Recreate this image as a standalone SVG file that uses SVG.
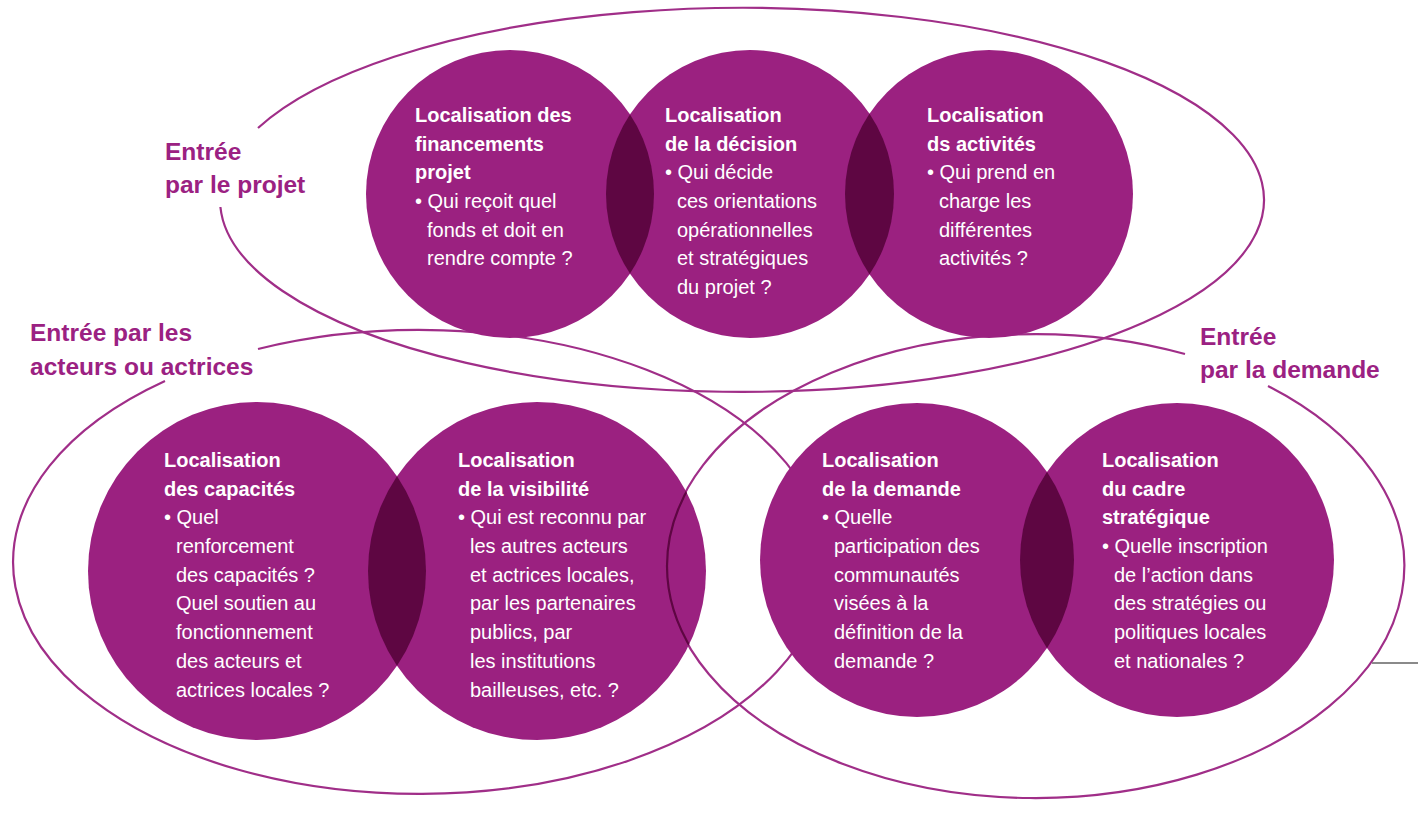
<svg xmlns="http://www.w3.org/2000/svg" width="1418" height="814" viewBox="0 0 1418 814">
<style>
.c{fill:#9b2180}
.lens{fill:#5e0642}
.ol{fill:none;stroke:#a02e88;stroke-width:2.2}
.lbl{font-family:"Liberation Sans",Arial,sans-serif;font-weight:bold;font-size:24.5px;fill:#9b2182}
.t{font-family:"Liberation Sans",Arial,sans-serif;font-size:20px;fill:#ffffff}
.h{font-weight:bold}
</style>
<defs>
<clipPath id="k1"><circle cx="510" cy="194" r="144"/></clipPath>
<clipPath id="k2"><circle cx="750" cy="194" r="144"/></clipPath>
<clipPath id="k4"><circle cx="257" cy="571" r="169"/></clipPath>
<clipPath id="k5"><circle cx="537" cy="571" r="169"/></clipPath>
<clipPath id="k6"><circle cx="917" cy="560" r="157"/></clipPath>
</defs>
<rect width="1418" height="814" fill="#ffffff"/>
<g id="connectors">
<path class="ol" d="M 220.4 207 A 522 192 0 1 0 258 128"/>
<path class="ol" d="M 258 349 A 406 232 0 1 1 165 381"/>
<path class="ol" d="M 1268 386 A 369 232 0 1 1 1185 354"/>
<line x1="1372" y1="663" x2="1418" y2="663" stroke="#8a8a8a" stroke-width="2"/>
</g>
<g id="label-projet">
<text class="lbl" x="165" y="160">Entrée</text>
<text class="lbl" x="165" y="193">par le projet</text>
</g>
<g id="label-acteurs">
<text class="lbl" x="30" y="341">Entrée par les</text>
<text class="lbl" x="30" y="375">acteurs ou actrices</text>
</g>
<g id="label-demande">
<text class="lbl" x="1200" y="345">Entrée</text>
<text class="lbl" x="1200" y="378">par la demande</text>
</g>
<g id="n1">
<circle class="c" cx="510" cy="194" r="144"/>
</g>
<g id="n2">
<circle class="c" cx="750" cy="194" r="144"/>
<circle class="lens" cx="750" cy="194" r="144" clip-path="url(#k1)"/>
</g>
<g id="n3">
<circle class="c" cx="989" cy="194" r="144"/>
<circle class="lens" cx="989" cy="194" r="144" clip-path="url(#k2)"/>
</g>
<g id="n4">
<circle class="c" cx="257" cy="571" r="169"/>
</g>
<g id="n5">
<circle class="c" cx="537" cy="571" r="169"/>
<circle class="lens" cx="537" cy="571" r="169" clip-path="url(#k4)"/>
<ellipse fill="none" stroke="#5e0642" stroke-width="2.2" cx="1036" cy="566" rx="369" ry="232" clip-path="url(#k5)"/>
</g>
<g id="n6">
<circle class="c" cx="917" cy="560" r="157"/>
</g>
<g id="n7">
<circle class="c" cx="1177" cy="560" r="157"/>
<circle class="lens" cx="1177" cy="560" r="157" clip-path="url(#k6)"/>
</g>
<g id="text1" class="t">
<text x="415" y="122" class="h">Localisation des</text>
<text x="415" y="151" class="h">financements</text>
<text x="415" y="179" class="h">projet</text>
<text x="415" y="208">• Qui reçoit quel</text>
<text x="427" y="237">fonds et doit en</text>
<text x="427" y="265">rendre compte ?</text>
</g>
<g id="text2" class="t">
<text x="665" y="122" class="h">Localisation</text>
<text x="665" y="151" class="h">de la décision</text>
<text x="665" y="179">• Qui décide</text>
<text x="677" y="208">ces orientations</text>
<text x="677" y="237">opérationnelles</text>
<text x="677" y="265">et stratégiques</text>
<text x="677" y="294">du projet ?</text>
</g>
<g id="text3" class="t">
<text x="927" y="122" class="h">Localisation</text>
<text x="927" y="151" class="h">ds activités</text>
<text x="927" y="179">• Qui prend en</text>
<text x="939" y="208">charge les</text>
<text x="939" y="237">différentes</text>
<text x="939" y="265">activités ?</text>
</g>
<g id="text4" class="t">
<text x="164" y="467" class="h">Localisation</text>
<text x="164" y="496" class="h">des capacités</text>
<text x="164" y="524">• Quel</text>
<text x="176" y="553">renforcement</text>
<text x="176" y="582">des capacités ?</text>
<text x="176" y="610">Quel soutien au</text>
<text x="176" y="639">fonctionnement</text>
<text x="176" y="668">des acteurs et</text>
<text x="176" y="697">actrices locales ?</text>
</g>
<g id="text5" class="t">
<text x="458" y="467" class="h">Localisation</text>
<text x="458" y="496" class="h">de la visibilité</text>
<text x="458" y="524">• Qui est reconnu par</text>
<text x="470" y="553">les autres acteurs</text>
<text x="470" y="582">et actrices locales,</text>
<text x="470" y="610">par les partenaires</text>
<text x="470" y="639">publics, par</text>
<text x="470" y="668">les institutions</text>
<text x="470" y="697">bailleuses, etc. ?</text>
</g>
<g id="text6" class="t">
<text x="822" y="467" class="h">Localisation</text>
<text x="822" y="496" class="h">de la demande</text>
<text x="822" y="524">• Quelle</text>
<text x="834" y="553">participation des</text>
<text x="834" y="582">communautés</text>
<text x="834" y="610">visées à la</text>
<text x="834" y="639">définition de la</text>
<text x="834" y="668">demande ?</text>
</g>
<g id="text7" class="t">
<text x="1102" y="467" class="h">Localisation</text>
<text x="1102" y="496" class="h">du cadre</text>
<text x="1102" y="524" class="h">stratégique</text>
<text x="1102" y="553">• Quelle inscription</text>
<text x="1114" y="582">de l’action dans</text>
<text x="1114" y="610">des stratégies ou</text>
<text x="1114" y="639">politiques locales</text>
<text x="1114" y="668">et nationales ?</text>
</g>
</svg>
